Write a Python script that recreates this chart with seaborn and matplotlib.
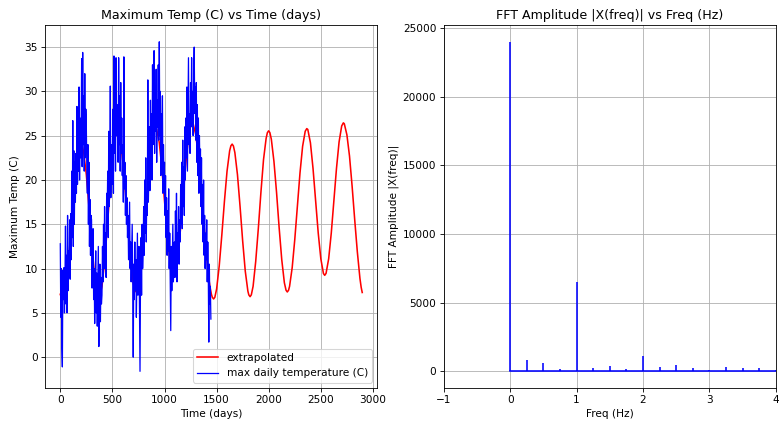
"""
Max daily temperature with FFT extrapolation, plus the FFT amplitude spectrum.
Values are read off the reference picture.
"""

import pandas as pd
import matplotlib
matplotlib.use('Agg')
import matplotlib.pyplot as plt
import seaborn as sns

# --- observed max daily temperature, sampled every 5 days (0 .. 1445) ---
temp_days = list(range(0, 1450, 5))
temp_values = [
    12.8, 4.5, 10.0, 1.0, -1.1, 9.8, 6.5, 10.1, 5.0, 8.6,
    14.8, 6.0, 11.5, 5.0, 16.0, 7.5, 12.0, 9.0, 15.5, 8.8,
    16.2, 11.0, 21.0, 13.5, 26.7, 12.5, 23.3, 15.0, 22.0, 17.5,
    23.0, 18.5, 28.3, 19.5, 25.5, 21.0, 30.5, 20.0, 27.0, 22.5,
    25.0, 33.7, 21.5, 34.4, 24.0, 29.5, 21.0, 32.0, 22.5, 28.0,
    26.0, 21.0, 18.5, 24.0, 15.0, 22.0, 12.5, 17.8, 11.5, 16.0,
    15.5, 7.8, 12.0, 14.5, 6.5, 10.0, 3.8, 8.5, 12.0, 5.0,
    9.5, 3.5, 8.0, 12.5, 1.2, 7.0, 10.5, 4.0, 9.0, 6.0,
    7.0, 12.5, 8.5, 15.0, 10.0, 17.0, 11.5, 14.0, 9.0, 18.5,
    16.0, 21.0, 13.5, 25.5, 17.0, 20.5, 30.6, 18.0, 24.0, 19.5,
    22.5, 28.0, 18.5, 34.0, 23.0, 30.0, 21.0, 33.8, 25.0, 28.5,
    27.0, 22.0, 33.8, 24.0, 29.5, 21.0, 31.0, 23.0, 27.0, 20.5,
    24.0, 17.5, 33.9, 19.0, 22.0, 16.0, 20.5, 15.0, 18.0, 13.5,
    16.0, 11.0, 14.5, 17.5, 10.0, 13.0, 8.5, 12.0, 15.0, 9.0,
    0.0, 10.5, 6.5, 13.0, 7.5, 11.0, 4.5, 9.5, 14.0, 7.0,
    8.0, 12.5, 5.0, -1.6, 9.5, 13.5, 7.0, 15.0, 10.0, 12.0,
    17.0, 11.5, 20.0, 14.0, 22.5, 13.0, 18.5, 16.0, 31.3, 17.5,
    20.5, 26.0, 18.8, 29.0, 22.0, 27.5, 20.0, 33.0, 24.0, 28.5,
    34.6, 23.0, 30.0, 25.5, 32.5, 22.0, 29.0, 26.0, 33.0, 24.5,
    35.6, 25.0, 30.0, 20.5, 27.5, 22.0, 29.5, 18.5, 24.0, 19.5,
    22.0, 16.0, 20.5, 13.5, 18.0, 11.5, 16.5, 12.0, 19.0, 10.0,
    14.0, 8.0, 3.0, 12.5, 7.5, 11.0, 15.0, 8.5, 10.0, 13.0,
    9.0, 16.5, 11.0, 18.5, 8.5, 14.0, 12.0, 17.0, 10.5, 15.5,
    13.0, 19.5, 15.0, 22.0, 14.5, 24.5, 17.0, 21.5, 16.0, 26.0,
    20.0, 27.0, 22.5, 30.5, 21.0, 28.0, 33.8, 24.0, 27.5, 23.0,
    31.0, 26.0, 33.8, 28.0, 30.0, 25.0, 32.0, 35.0, 27.5, 30.5,
    24.5, 31.0, 22.0, 28.5, 20.5, 27.0, 18.5, 25.0, 21.0, 23.5,
    17.0, 22.5, 15.0, 19.5, 13.0, 20.0, 11.5, 16.0, 10.0, 14.0,
    11.0, 15.5, 8.5, 13.0, 9.5, 1.7, 10.5, 6.0, 8.0, 4.3,
]

# --- extrapolated fit (the fitted curve repeats after ~1450 days) ---
extrap_days = [
    0, 9, 21, 33, 50, 75, 100, 125, 150, 175,
    187, 199, 211, 225, 250, 275, 300, 325, 350, 359,
    371, 383, 400, 425, 450, 475, 500, 525, 537, 549,
    561, 575, 600, 625, 650, 675, 700, 716, 728, 740,
    750, 775, 800, 825, 850, 875, 900, 915, 925, 950,
    975, 1000, 1025, 1050, 1075, 1087, 1100, 1125, 1150, 1175,
    1200, 1225, 1250, 1266, 1275, 1300, 1325, 1350, 1375, 1400,
    1425, 1437,
    1450, 1459, 1471, 1483, 1500, 1525, 1550, 1575, 1600, 1625,
    1637, 1649, 1661, 1675, 1700, 1725, 1750, 1775, 1800, 1809,
    1821, 1833, 1850, 1875, 1900, 1925, 1950, 1975, 1987, 1999,
    2011, 2025, 2050, 2075, 2100, 2125, 2150, 2166, 2178, 2190,
    2200, 2225, 2250, 2275, 2300, 2325, 2350, 2365, 2375, 2400,
    2425, 2450, 2475, 2500, 2525, 2537, 2550, 2575, 2600, 2625,
    2650, 2675, 2700, 2716, 2725, 2750, 2775, 2800, 2825, 2850,
    2875, 2887, 2897,
]
extrap_values = [
    7.1, 6.75, 6.57, 6.76, 7.7, 10.3, 13.8, 17.6, 21.0, 23.3,
    23.86, 24.05, 23.84, 23.1, 20.6, 17.0, 13.1, 9.7, 7.45, 7.03,
    6.83, 7.04, 8.0, 10.8, 14.5, 18.6, 22.3, 24.7, 25.34, 25.55,
    25.35, 24.6, 22.1, 18.6, 14.6, 11.0, 8.4, 7.56, 7.36, 7.55,
    8.0, 10.1, 13.3, 17.1, 20.8, 23.8, 25.5, 25.8, 25.7, 24.2,
    21.3, 17.7, 14.0, 11.1, 9.44, 9.24, 9.46, 11.1, 14.0, 17.6,
    21.3, 24.3, 26.1, 26.45, 26.35, 25.1, 22.7, 19.3, 15.5, 11.9,
    8.9, 7.88,
    7.1, 6.75, 6.57, 6.76, 7.7, 10.3, 13.8, 17.6, 21.0, 23.3,
    23.86, 24.05, 23.84, 23.1, 20.6, 17.0, 13.1, 9.7, 7.45, 7.03,
    6.83, 7.04, 8.0, 10.8, 14.5, 18.6, 22.3, 24.7, 25.34, 25.55,
    25.35, 24.6, 22.1, 18.6, 14.6, 11.0, 8.4, 7.56, 7.36, 7.55,
    8.0, 10.1, 13.3, 17.1, 20.8, 23.8, 25.5, 25.8, 25.7, 24.2,
    21.3, 17.7, 14.0, 11.1, 9.44, 9.24, 9.46, 11.1, 14.0, 17.6,
    21.3, 24.3, 26.1, 26.45, 26.35, 25.1, 22.7, 19.3, 15.5, 11.9,
    8.9, 7.88, 7.3,
]

# --- FFT amplitude spectrum ---
fft_freq = [0.0, 0.25, 0.5, 0.75, 1.0, 1.25, 1.5, 1.75, 2.0,
            2.25, 2.5, 2.75, 3.0, 3.25, 3.5, 3.75, 4.0]
fft_amp = [24000, 820, 600, 170, 6500, 240, 390, 190, 1090,
           340, 430, 240, 100, 310, 240, 240, 80]

temp_df = pd.DataFrame({'day': temp_days, 'temp': temp_values})
extrap_df = pd.DataFrame({'day': extrap_days, 'temp': extrap_values})

fig, axes = plt.subplots(1, 2, figsize=(779 / 76, 422 / 76), dpi=76)
fig.subplots_adjust(left=0.058, right=0.996, top=0.94, bottom=0.081, wspace=0.2)

# Left: temperature and extrapolation
ax = axes[0]
sns.lineplot(data=extrap_df, x='day', y='temp', ax=ax, color='r',
             estimator=None, sort=False, linewidth=1.5, legend=False)
sns.lineplot(data=temp_df, x='day', y='temp', ax=ax, color='b',
             estimator=None, sort=False, linewidth=1.2, legend=False)
ax.set_title('Maximum Temp (C) vs Time (days)')
ax.set_xlabel('Time (days)')
ax.set_ylabel('Maximum Temp (C)')
ax.set_xticks([0, 500, 1000, 1500, 2000, 2500, 3000])
ax.grid(True)
ax.legend(ax.get_lines()[:2], ['extrapolated', 'max daily temperature (C)'],
          loc='lower right')

# Right: FFT amplitude
ax = axes[1]
ax.stem(fft_freq, fft_amp, linefmt='b-', markerfmt=' ', basefmt='b-')
ax.set_xlim(-1, 4)
ax.set_title('FFT Amplitude |X(freq)| vs Freq (Hz)')
ax.set_xlabel('Freq (Hz)')
ax.set_ylabel('FFT Amplitude |X(freq)|')
ax.grid(True)

plt.savefig('out.png', dpi=76)
plt.close()
